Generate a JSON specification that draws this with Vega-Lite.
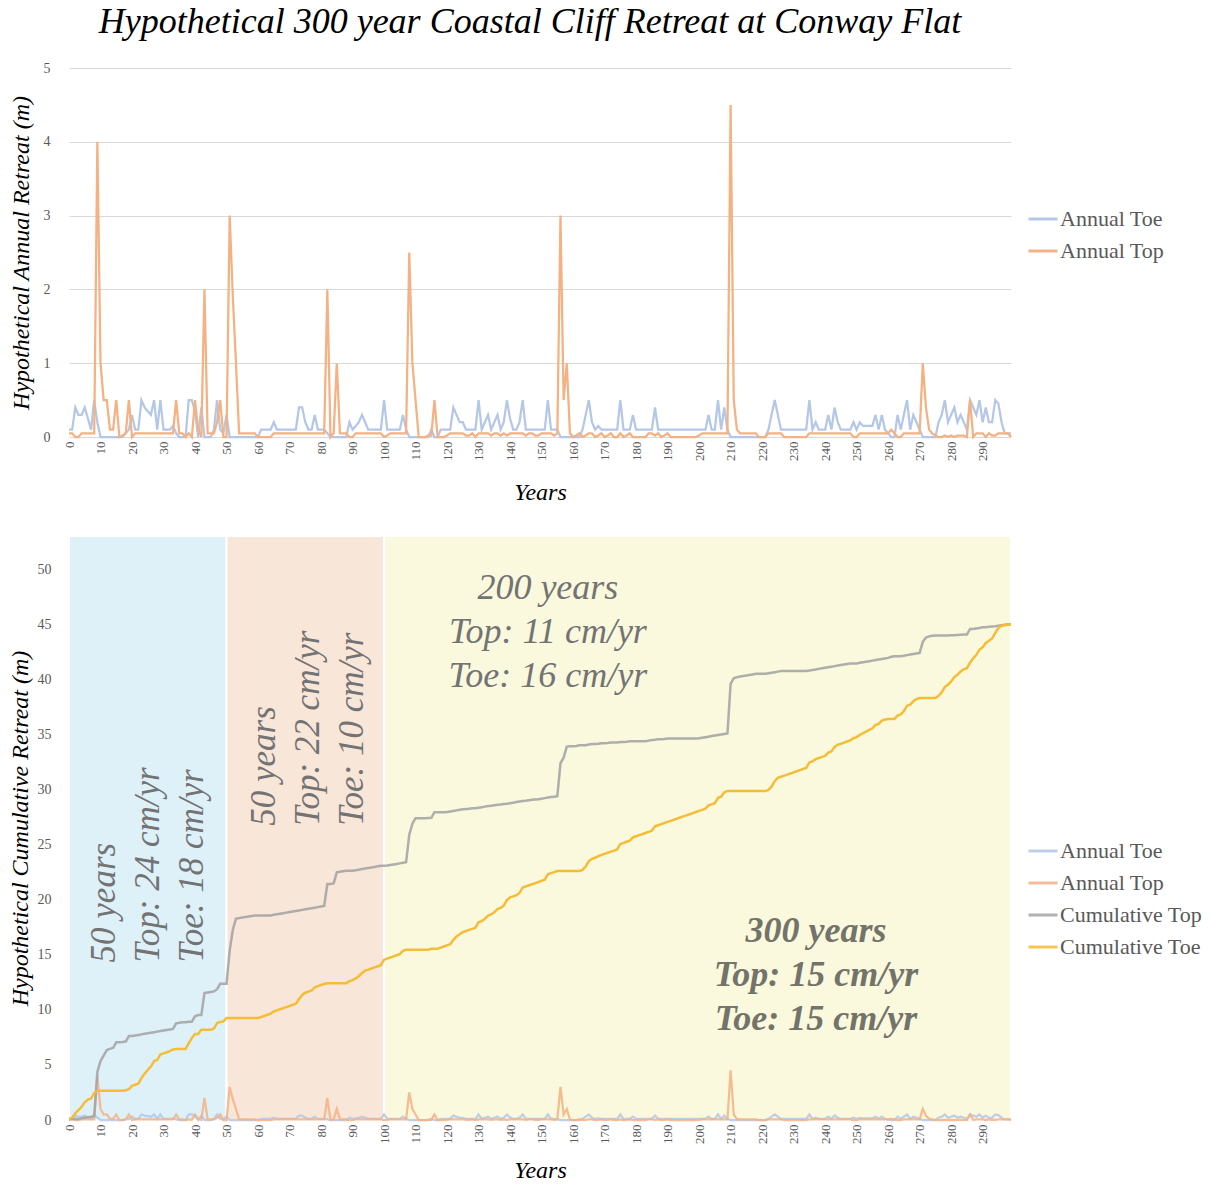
{
"$schema":"https://vega.github.io/schema/vega-lite/v6.json",
"background":"white",
"padding":{"left":8,"top":4,"right":5,"bottom":0},
"config":{"font":"Liberation Serif","view":{"stroke":null},
"axis":{"labelFont":"Liberation Serif","titleFont":"Liberation Serif","labelColor":"#595959","titleColor":"#000000","titleFontStyle":"italic","titleFontWeight":"normal","titleFontSize":24,"labelFontSize":14,"gridColor":"#D9D9D9","domain":false,"ticks":false},
"axisX":{"values":[0,10,20,30,40,50,60,70,80,90,100,110,120,130,140,150,160,170,180,190,200,210,220,230,240,250,260,270,280,290],"labelAngle":270,"labelFontSize":13,"labelPadding":4,"grid":false,"labelOverlap":false},
"legend":{"labelFont":"Liberation Serif","labelFontSize":22,"labelColor":"#595959","symbolType":"stroke","symbolStrokeWidth":3,"symbolSize":840,"rowPadding":5,"labelOffset":1}},
"datasets":{"d":[
{"year":0,"toe":0.1,"top":0.05,"ctoe":0.1,"ctop":0.05},
{"year":1,"toe":0.1,"top":0.05,"ctoe":0.2,"ctop":0.1},
{"year":2,"toe":0.4,"top":0,"ctoe":0.6,"ctop":0.1},
{"year":3,"toe":0.3,"top":0,"ctoe":0.9,"ctop":0.1},
{"year":4,"toe":0.3,"top":0.05,"ctoe":1.2,"ctop":0.15},
{"year":5,"toe":0.4,"top":0.05,"ctoe":1.6,"ctop":0.2},
{"year":6,"toe":0.25,"top":0.05,"ctoe":1.85,"ctop":0.25},
{"year":7,"toe":0.1,"top":0.05,"ctoe":1.95,"ctop":0.3},
{"year":8,"toe":0.5,"top":0.05,"ctoe":2.45,"ctop":0.35},
{"year":9,"toe":0.2,"top":4.0,"ctoe":2.65,"ctop":4.35},
{"year":10,"toe":0,"top":1.0,"ctoe":2.65,"ctop":5.35},
{"year":11,"toe":0,"top":0.5,"ctoe":2.65,"ctop":5.85},
{"year":12,"toe":0,"top":0.5,"ctoe":2.65,"ctop":6.35},
{"year":13,"toe":0,"top":0.1,"ctoe":2.65,"ctop":6.45},
{"year":14,"toe":0,"top":0.1,"ctoe":2.65,"ctop":6.55},
{"year":15,"toe":0,"top":0.5,"ctoe":2.65,"ctop":7.05},
{"year":16,"toe":0,"top":0,"ctoe":2.65,"ctop":7.05},
{"year":17,"toe":0,"top":0.02,"ctoe":2.65,"ctop":7.07},
{"year":18,"toe":0.05,"top":0.05,"ctoe":2.7,"ctop":7.12},
{"year":19,"toe":0.1,"top":0.5,"ctoe":2.8,"ctop":7.62},
{"year":20,"toe":0.3,"top":0,"ctoe":3.1,"ctop":7.62},
{"year":21,"toe":0.1,"top":0.05,"ctoe":3.2,"ctop":7.67},
{"year":22,"toe":0.1,"top":0.05,"ctoe":3.3,"ctop":7.72},
{"year":23,"toe":0.5,"top":0.05,"ctoe":3.8,"ctop":7.77},
{"year":24,"toe":0.4,"top":0.05,"ctoe":4.2,"ctop":7.82},
{"year":25,"toe":0.35,"top":0.05,"ctoe":4.55,"ctop":7.87},
{"year":26,"toe":0.3,"top":0.05,"ctoe":4.85,"ctop":7.92},
{"year":27,"toe":0.5,"top":0.05,"ctoe":5.35,"ctop":7.97},
{"year":28,"toe":0.1,"top":0.05,"ctoe":5.45,"ctop":8.02},
{"year":29,"toe":0.5,"top":0.05,"ctoe":5.95,"ctop":8.07},
{"year":30,"toe":0.1,"top":0.05,"ctoe":6.05,"ctop":8.12},
{"year":31,"toe":0.1,"top":0.05,"ctoe":6.15,"ctop":8.17},
{"year":32,"toe":0.1,"top":0.05,"ctoe":6.25,"ctop":8.22},
{"year":33,"toe":0.15,"top":0.05,"ctoe":6.4,"ctop":8.27},
{"year":34,"toe":0.05,"top":0.5,"ctoe":6.45,"ctop":8.77},
{"year":35,"toe":0,"top":0.05,"ctoe":6.45,"ctop":8.82},
{"year":36,"toe":0,"top":0.05,"ctoe":6.45,"ctop":8.87},
{"year":37,"toe":0,"top":0,"ctoe":6.45,"ctop":8.87},
{"year":38,"toe":0.5,"top":0.05,"ctoe":6.95,"ctop":8.92},
{"year":39,"toe":0.5,"top":0,"ctoe":7.45,"ctop":8.92},
{"year":40,"toe":0.35,"top":0.5,"ctoe":7.8,"ctop":9.42},
{"year":41,"toe":0,"top":0.1,"ctoe":7.8,"ctop":9.52},
{"year":42,"toe":0.4,"top":0,"ctoe":8.2,"ctop":9.52},
{"year":43,"toe":0,"top":2.0,"ctoe":8.2,"ctop":11.52},
{"year":44,"toe":0,"top":0.05,"ctoe":8.2,"ctop":11.57},
{"year":45,"toe":0,"top":0.05,"ctoe":8.2,"ctop":11.62},
{"year":46,"toe":0.1,"top":0.05,"ctoe":8.3,"ctop":11.67},
{"year":47,"toe":0.5,"top":0.2,"ctoe":8.8,"ctop":11.87},
{"year":48,"toe":0.1,"top":0.5,"ctoe":8.9,"ctop":12.37},
{"year":49,"toe":0.05,"top":0,"ctoe":8.95,"ctop":12.37},
{"year":50,"toe":0.3,"top":0,"ctoe":9.25,"ctop":12.37},
{"year":51,"toe":0,"top":3.0,"ctoe":9.25,"ctop":15.37},
{"year":52,"toe":0,"top":1.9,"ctoe":9.25,"ctop":17.27},
{"year":53,"toe":0,"top":1.0,"ctoe":9.25,"ctop":18.27},
{"year":54,"toe":0,"top":0.05,"ctoe":9.25,"ctop":18.32},
{"year":55,"toe":0,"top":0.05,"ctoe":9.25,"ctop":18.37},
{"year":56,"toe":0,"top":0.05,"ctoe":9.25,"ctop":18.42},
{"year":57,"toe":0,"top":0.05,"ctoe":9.25,"ctop":18.47},
{"year":58,"toe":0,"top":0.05,"ctoe":9.25,"ctop":18.52},
{"year":59,"toe":0,"top":0.05,"ctoe":9.25,"ctop":18.57},
{"year":60,"toe":0,"top":0,"ctoe":9.25,"ctop":18.57},
{"year":61,"toe":0.1,"top":0,"ctoe":9.35,"ctop":18.57},
{"year":62,"toe":0.1,"top":0,"ctoe":9.45,"ctop":18.57},
{"year":63,"toe":0.1,"top":0,"ctoe":9.55,"ctop":18.57},
{"year":64,"toe":0.1,"top":0,"ctoe":9.65,"ctop":18.57},
{"year":65,"toe":0.2,"top":0.05,"ctoe":9.85,"ctop":18.62},
{"year":66,"toe":0.1,"top":0.05,"ctoe":9.95,"ctop":18.67},
{"year":67,"toe":0.1,"top":0.05,"ctoe":10.05,"ctop":18.72},
{"year":68,"toe":0.1,"top":0.05,"ctoe":10.15,"ctop":18.77},
{"year":69,"toe":0.1,"top":0.05,"ctoe":10.25,"ctop":18.82},
{"year":70,"toe":0.1,"top":0.05,"ctoe":10.35,"ctop":18.87},
{"year":71,"toe":0.1,"top":0.05,"ctoe":10.45,"ctop":18.92},
{"year":72,"toe":0.1,"top":0.05,"ctoe":10.55,"ctop":18.97},
{"year":73,"toe":0.4,"top":0.05,"ctoe":10.95,"ctop":19.02},
{"year":74,"toe":0.4,"top":0.05,"ctoe":11.35,"ctop":19.07},
{"year":75,"toe":0.2,"top":0.05,"ctoe":11.55,"ctop":19.12},
{"year":76,"toe":0.1,"top":0.05,"ctoe":11.65,"ctop":19.17},
{"year":77,"toe":0.1,"top":0.05,"ctoe":11.75,"ctop":19.22},
{"year":78,"toe":0.3,"top":0.05,"ctoe":12.05,"ctop":19.27},
{"year":79,"toe":0.1,"top":0.05,"ctoe":12.15,"ctop":19.32},
{"year":80,"toe":0.1,"top":0.05,"ctoe":12.25,"ctop":19.37},
{"year":81,"toe":0.1,"top":0.05,"ctoe":12.35,"ctop":19.42},
{"year":82,"toe":0.05,"top":2.0,"ctoe":12.4,"ctop":21.42},
{"year":83,"toe":0,"top":0,"ctoe":12.4,"ctop":21.42},
{"year":84,"toe":0,"top":0.05,"ctoe":12.4,"ctop":21.47},
{"year":85,"toe":0,"top":1.0,"ctoe":12.4,"ctop":22.47},
{"year":86,"toe":0,"top":0.05,"ctoe":12.4,"ctop":22.52},
{"year":87,"toe":0,"top":0.05,"ctoe":12.4,"ctop":22.57},
{"year":88,"toe":0,"top":0.05,"ctoe":12.4,"ctop":22.62},
{"year":89,"toe":0.2,"top":0,"ctoe":12.6,"ctop":22.62},
{"year":90,"toe":0.1,"top":0,"ctoe":12.7,"ctop":22.62},
{"year":91,"toe":0.15,"top":0.05,"ctoe":12.85,"ctop":22.67},
{"year":92,"toe":0.2,"top":0.05,"ctoe":13.05,"ctop":22.72},
{"year":93,"toe":0.3,"top":0.05,"ctoe":13.35,"ctop":22.77},
{"year":94,"toe":0.2,"top":0.05,"ctoe":13.55,"ctop":22.82},
{"year":95,"toe":0.1,"top":0.05,"ctoe":13.65,"ctop":22.87},
{"year":96,"toe":0.1,"top":0.05,"ctoe":13.75,"ctop":22.92},
{"year":97,"toe":0.1,"top":0.05,"ctoe":13.85,"ctop":22.97},
{"year":98,"toe":0.1,"top":0.05,"ctoe":13.95,"ctop":23.02},
{"year":99,"toe":0.1,"top":0.05,"ctoe":14.05,"ctop":23.07},
{"year":100,"toe":0.5,"top":0,"ctoe":14.55,"ctop":23.07},
{"year":101,"toe":0.1,"top":0.02,"ctoe":14.65,"ctop":23.09},
{"year":102,"toe":0.1,"top":0.05,"ctoe":14.75,"ctop":23.14},
{"year":103,"toe":0.1,"top":0.05,"ctoe":14.85,"ctop":23.19},
{"year":104,"toe":0.1,"top":0.05,"ctoe":14.95,"ctop":23.24},
{"year":105,"toe":0.1,"top":0.05,"ctoe":15.05,"ctop":23.29},
{"year":106,"toe":0.3,"top":0.05,"ctoe":15.35,"ctop":23.34},
{"year":107,"toe":0.1,"top":0.05,"ctoe":15.45,"ctop":23.39},
{"year":108,"toe":0,"top":2.5,"ctoe":15.45,"ctop":25.89},
{"year":109,"toe":0,"top":1.0,"ctoe":15.45,"ctop":26.89},
{"year":110,"toe":0,"top":0.5,"ctoe":15.45,"ctop":27.39},
{"year":111,"toe":0,"top":0,"ctoe":15.45,"ctop":27.39},
{"year":112,"toe":0,"top":0,"ctoe":15.45,"ctop":27.39},
{"year":113,"toe":0,"top":0,"ctoe":15.45,"ctop":27.39},
{"year":114,"toe":0,"top":0.02,"ctoe":15.45,"ctop":27.41},
{"year":115,"toe":0.1,"top":0.02,"ctoe":15.55,"ctop":27.43},
{"year":116,"toe":0,"top":0.5,"ctoe":15.55,"ctop":27.93},
{"year":117,"toe":0,"top":0,"ctoe":15.55,"ctop":27.93},
{"year":118,"toe":0.1,"top":0,"ctoe":15.65,"ctop":27.93},
{"year":119,"toe":0.1,"top":0,"ctoe":15.75,"ctop":27.93},
{"year":120,"toe":0.1,"top":0.02,"ctoe":15.85,"ctop":27.95},
{"year":121,"toe":0.1,"top":0.05,"ctoe":15.95,"ctop":28.0},
{"year":122,"toe":0.4,"top":0.05,"ctoe":16.35,"ctop":28.05},
{"year":123,"toe":0.3,"top":0.05,"ctoe":16.65,"ctop":28.1},
{"year":124,"toe":0.2,"top":0.05,"ctoe":16.85,"ctop":28.15},
{"year":125,"toe":0.2,"top":0.05,"ctoe":17.05,"ctop":28.2},
{"year":126,"toe":0.1,"top":0.02,"ctoe":17.15,"ctop":28.22},
{"year":127,"toe":0.1,"top":0.02,"ctoe":17.25,"ctop":28.24},
{"year":128,"toe":0.1,"top":0.05,"ctoe":17.35,"ctop":28.29},
{"year":129,"toe":0.1,"top":0,"ctoe":17.45,"ctop":28.29},
{"year":130,"toe":0.5,"top":0.05,"ctoe":17.95,"ctop":28.34},
{"year":131,"toe":0.1,"top":0.05,"ctoe":18.05,"ctop":28.39},
{"year":132,"toe":0.2,"top":0.05,"ctoe":18.25,"ctop":28.44},
{"year":133,"toe":0.3,"top":0.05,"ctoe":18.55,"ctop":28.49},
{"year":134,"toe":0.1,"top":0.02,"ctoe":18.65,"ctop":28.51},
{"year":135,"toe":0.2,"top":0.05,"ctoe":18.85,"ctop":28.56},
{"year":136,"toe":0.3,"top":0.05,"ctoe":19.15,"ctop":28.61},
{"year":137,"toe":0.1,"top":0.02,"ctoe":19.25,"ctop":28.63},
{"year":138,"toe":0.2,"top":0.05,"ctoe":19.45,"ctop":28.68},
{"year":139,"toe":0.5,"top":0.02,"ctoe":19.95,"ctop":28.7},
{"year":140,"toe":0.25,"top":0.05,"ctoe":20.2,"ctop":28.75},
{"year":141,"toe":0.1,"top":0.05,"ctoe":20.3,"ctop":28.8},
{"year":142,"toe":0.1,"top":0.05,"ctoe":20.4,"ctop":28.85},
{"year":143,"toe":0.2,"top":0.05,"ctoe":20.6,"ctop":28.9},
{"year":144,"toe":0.5,"top":0.05,"ctoe":21.1,"ctop":28.95},
{"year":145,"toe":0.1,"top":0.02,"ctoe":21.2,"ctop":28.97},
{"year":146,"toe":0.1,"top":0.05,"ctoe":21.3,"ctop":29.02},
{"year":147,"toe":0.1,"top":0.05,"ctoe":21.4,"ctop":29.07},
{"year":148,"toe":0.1,"top":0.02,"ctoe":21.5,"ctop":29.09},
{"year":149,"toe":0.1,"top":0.02,"ctoe":21.6,"ctop":29.11},
{"year":150,"toe":0.1,"top":0.05,"ctoe":21.7,"ctop":29.16},
{"year":151,"toe":0.1,"top":0.05,"ctoe":21.8,"ctop":29.21},
{"year":152,"toe":0.5,"top":0.05,"ctoe":22.3,"ctop":29.26},
{"year":153,"toe":0.1,"top":0.05,"ctoe":22.4,"ctop":29.31},
{"year":154,"toe":0.1,"top":0.02,"ctoe":22.5,"ctop":29.33},
{"year":155,"toe":0.1,"top":0.05,"ctoe":22.6,"ctop":29.38},
{"year":156,"toe":0,"top":3.0,"ctoe":22.6,"ctop":32.38},
{"year":157,"toe":0,"top":0.5,"ctoe":22.6,"ctop":32.88},
{"year":158,"toe":0,"top":1.0,"ctoe":22.6,"ctop":33.88},
{"year":159,"toe":0,"top":0.05,"ctoe":22.6,"ctop":33.93},
{"year":160,"toe":0,"top":0,"ctoe":22.6,"ctop":33.93},
{"year":161,"toe":0,"top":0.02,"ctoe":22.6,"ctop":33.95},
{"year":162,"toe":0,"top":0.05,"ctoe":22.6,"ctop":34.0},
{"year":163,"toe":0.1,"top":0,"ctoe":22.7,"ctop":34.0},
{"year":164,"toe":0.3,"top":0.02,"ctoe":23.0,"ctop":34.02},
{"year":165,"toe":0.5,"top":0.05,"ctoe":23.5,"ctop":34.07},
{"year":166,"toe":0.2,"top":0.05,"ctoe":23.7,"ctop":34.12},
{"year":167,"toe":0.1,"top":0,"ctoe":23.8,"ctop":34.12},
{"year":168,"toe":0.15,"top":0.02,"ctoe":23.95,"ctop":34.14},
{"year":169,"toe":0.1,"top":0.05,"ctoe":24.05,"ctop":34.19},
{"year":170,"toe":0.1,"top":0,"ctoe":24.15,"ctop":34.19},
{"year":171,"toe":0.1,"top":0.02,"ctoe":24.25,"ctop":34.21},
{"year":172,"toe":0.1,"top":0.05,"ctoe":24.35,"ctop":34.26},
{"year":173,"toe":0.1,"top":0,"ctoe":24.45,"ctop":34.26},
{"year":174,"toe":0.1,"top":0,"ctoe":24.55,"ctop":34.26},
{"year":175,"toe":0.5,"top":0.05,"ctoe":25.05,"ctop":34.31},
{"year":176,"toe":0.1,"top":0,"ctoe":25.15,"ctop":34.31},
{"year":177,"toe":0.1,"top":0.02,"ctoe":25.25,"ctop":34.33},
{"year":178,"toe":0.1,"top":0.05,"ctoe":25.35,"ctop":34.38},
{"year":179,"toe":0.3,"top":0,"ctoe":25.65,"ctop":34.38},
{"year":180,"toe":0.1,"top":0,"ctoe":25.75,"ctop":34.38},
{"year":181,"toe":0.1,"top":0,"ctoe":25.85,"ctop":34.38},
{"year":182,"toe":0.1,"top":0,"ctoe":25.95,"ctop":34.38},
{"year":183,"toe":0.1,"top":0,"ctoe":26.05,"ctop":34.38},
{"year":184,"toe":0.1,"top":0.05,"ctoe":26.15,"ctop":34.43},
{"year":185,"toe":0.1,"top":0.05,"ctoe":26.25,"ctop":34.48},
{"year":186,"toe":0.4,"top":0.02,"ctoe":26.65,"ctop":34.5},
{"year":187,"toe":0.1,"top":0.05,"ctoe":26.75,"ctop":34.55},
{"year":188,"toe":0.1,"top":0,"ctoe":26.85,"ctop":34.55},
{"year":189,"toe":0.1,"top":0.02,"ctoe":26.95,"ctop":34.57},
{"year":190,"toe":0.1,"top":0.05,"ctoe":27.05,"ctop":34.62},
{"year":191,"toe":0.1,"top":0,"ctoe":27.15,"ctop":34.62},
{"year":192,"toe":0.1,"top":0,"ctoe":27.25,"ctop":34.62},
{"year":193,"toe":0.1,"top":0,"ctoe":27.35,"ctop":34.62},
{"year":194,"toe":0.1,"top":0,"ctoe":27.45,"ctop":34.62},
{"year":195,"toe":0.1,"top":0,"ctoe":27.55,"ctop":34.62},
{"year":196,"toe":0.1,"top":0,"ctoe":27.65,"ctop":34.62},
{"year":197,"toe":0.1,"top":0,"ctoe":27.75,"ctop":34.62},
{"year":198,"toe":0.1,"top":0,"ctoe":27.85,"ctop":34.62},
{"year":199,"toe":0.1,"top":0,"ctoe":27.95,"ctop":34.62},
{"year":200,"toe":0.1,"top":0.02,"ctoe":28.05,"ctop":34.64},
{"year":201,"toe":0.1,"top":0.05,"ctoe":28.15,"ctop":34.69},
{"year":202,"toe":0.1,"top":0.05,"ctoe":28.25,"ctop":34.74},
{"year":203,"toe":0.3,"top":0.05,"ctoe":28.55,"ctop":34.79},
{"year":204,"toe":0.1,"top":0.05,"ctoe":28.65,"ctop":34.84},
{"year":205,"toe":0.1,"top":0.05,"ctoe":28.75,"ctop":34.89},
{"year":206,"toe":0.5,"top":0.05,"ctoe":29.25,"ctop":34.94},
{"year":207,"toe":0.1,"top":0.05,"ctoe":29.35,"ctop":34.99},
{"year":208,"toe":0.4,"top":0.05,"ctoe":29.75,"ctop":35.04},
{"year":209,"toe":0.1,"top":0.05,"ctoe":29.85,"ctop":35.09},
{"year":210,"toe":0,"top":4.5,"ctoe":29.85,"ctop":39.59},
{"year":211,"toe":0,"top":0.5,"ctoe":29.85,"ctop":40.09},
{"year":212,"toe":0,"top":0.1,"ctoe":29.85,"ctop":40.19},
{"year":213,"toe":0,"top":0.05,"ctoe":29.85,"ctop":40.24},
{"year":214,"toe":0,"top":0.05,"ctoe":29.85,"ctop":40.29},
{"year":215,"toe":0,"top":0.05,"ctoe":29.85,"ctop":40.34},
{"year":216,"toe":0,"top":0.05,"ctoe":29.85,"ctop":40.39},
{"year":217,"toe":0,"top":0.05,"ctoe":29.85,"ctop":40.44},
{"year":218,"toe":0,"top":0.05,"ctoe":29.85,"ctop":40.49},
{"year":219,"toe":0,"top":0,"ctoe":29.85,"ctop":40.49},
{"year":220,"toe":0,"top":0,"ctoe":29.85,"ctop":40.49},
{"year":221,"toe":0,"top":0,"ctoe":29.85,"ctop":40.49},
{"year":222,"toe":0.1,"top":0.05,"ctoe":29.95,"ctop":40.54},
{"year":223,"toe":0.3,"top":0.05,"ctoe":30.25,"ctop":40.59},
{"year":224,"toe":0.5,"top":0.05,"ctoe":30.75,"ctop":40.64},
{"year":225,"toe":0.3,"top":0.05,"ctoe":31.05,"ctop":40.69},
{"year":226,"toe":0.1,"top":0.05,"ctoe":31.15,"ctop":40.74},
{"year":227,"toe":0.1,"top":0,"ctoe":31.25,"ctop":40.74},
{"year":228,"toe":0.1,"top":0,"ctoe":31.35,"ctop":40.74},
{"year":229,"toe":0.1,"top":0,"ctoe":31.45,"ctop":40.74},
{"year":230,"toe":0.1,"top":0,"ctoe":31.55,"ctop":40.74},
{"year":231,"toe":0.1,"top":0,"ctoe":31.65,"ctop":40.74},
{"year":232,"toe":0.1,"top":0,"ctoe":31.75,"ctop":40.74},
{"year":233,"toe":0.1,"top":0,"ctoe":31.85,"ctop":40.74},
{"year":234,"toe":0.1,"top":0,"ctoe":31.95,"ctop":40.74},
{"year":235,"toe":0.5,"top":0.05,"ctoe":32.45,"ctop":40.79},
{"year":236,"toe":0.1,"top":0.05,"ctoe":32.55,"ctop":40.84},
{"year":237,"toe":0.2,"top":0.05,"ctoe":32.75,"ctop":40.89},
{"year":238,"toe":0.1,"top":0.05,"ctoe":32.85,"ctop":40.94},
{"year":239,"toe":0.1,"top":0.05,"ctoe":32.95,"ctop":40.99},
{"year":240,"toe":0.1,"top":0.05,"ctoe":33.05,"ctop":41.04},
{"year":241,"toe":0.3,"top":0.05,"ctoe":33.35,"ctop":41.09},
{"year":242,"toe":0.1,"top":0.05,"ctoe":33.45,"ctop":41.14},
{"year":243,"toe":0.4,"top":0.05,"ctoe":33.85,"ctop":41.19},
{"year":244,"toe":0.2,"top":0.05,"ctoe":34.05,"ctop":41.24},
{"year":245,"toe":0.1,"top":0.05,"ctoe":34.15,"ctop":41.29},
{"year":246,"toe":0.1,"top":0.05,"ctoe":34.25,"ctop":41.34},
{"year":247,"toe":0.1,"top":0.05,"ctoe":34.35,"ctop":41.39},
{"year":248,"toe":0.1,"top":0.05,"ctoe":34.45,"ctop":41.44},
{"year":249,"toe":0.2,"top":0,"ctoe":34.65,"ctop":41.44},
{"year":250,"toe":0.1,"top":0,"ctoe":34.75,"ctop":41.44},
{"year":251,"toe":0.2,"top":0.05,"ctoe":34.95,"ctop":41.49},
{"year":252,"toe":0.15,"top":0.05,"ctoe":35.1,"ctop":41.54},
{"year":253,"toe":0.15,"top":0.05,"ctoe":35.25,"ctop":41.59},
{"year":254,"toe":0.15,"top":0.05,"ctoe":35.4,"ctop":41.64},
{"year":255,"toe":0.15,"top":0.05,"ctoe":35.55,"ctop":41.69},
{"year":256,"toe":0.3,"top":0.05,"ctoe":35.85,"ctop":41.74},
{"year":257,"toe":0.1,"top":0.05,"ctoe":35.95,"ctop":41.79},
{"year":258,"toe":0.3,"top":0.05,"ctoe":36.25,"ctop":41.84},
{"year":259,"toe":0.1,"top":0.05,"ctoe":36.35,"ctop":41.89},
{"year":260,"toe":0.05,"top":0.05,"ctoe":36.4,"ctop":41.94},
{"year":261,"toe":0,"top":0.1,"ctoe":36.4,"ctop":42.04},
{"year":262,"toe":0,"top":0.05,"ctoe":36.4,"ctop":42.09},
{"year":263,"toe":0.3,"top":0,"ctoe":36.7,"ctop":42.09},
{"year":264,"toe":0.1,"top":0,"ctoe":36.8,"ctop":42.09},
{"year":265,"toe":0.3,"top":0.05,"ctoe":37.1,"ctop":42.14},
{"year":266,"toe":0.5,"top":0.05,"ctoe":37.6,"ctop":42.19},
{"year":267,"toe":0.1,"top":0.05,"ctoe":37.7,"ctop":42.24},
{"year":268,"toe":0.3,"top":0.05,"ctoe":38.0,"ctop":42.29},
{"year":269,"toe":0.2,"top":0.05,"ctoe":38.2,"ctop":42.34},
{"year":270,"toe":0.1,"top":0.05,"ctoe":38.3,"ctop":42.39},
{"year":271,"toe":0,"top":1.0,"ctoe":38.3,"ctop":43.39},
{"year":272,"toe":0,"top":0.4,"ctoe":38.3,"ctop":43.79},
{"year":273,"toe":0,"top":0.1,"ctoe":38.3,"ctop":43.89},
{"year":274,"toe":0,"top":0.05,"ctoe":38.3,"ctop":43.94},
{"year":275,"toe":0,"top":0.02,"ctoe":38.3,"ctop":43.96},
{"year":276,"toe":0.2,"top":0,"ctoe":38.5,"ctop":43.96},
{"year":277,"toe":0.3,"top":0,"ctoe":38.8,"ctop":43.96},
{"year":278,"toe":0.5,"top":0.02,"ctoe":39.3,"ctop":43.98},
{"year":279,"toe":0.2,"top":0,"ctoe":39.5,"ctop":43.98},
{"year":280,"toe":0.3,"top":0.02,"ctoe":39.8,"ctop":44.0},
{"year":281,"toe":0.4,"top":0,"ctoe":40.2,"ctop":44.0},
{"year":282,"toe":0.2,"top":0.02,"ctoe":40.4,"ctop":44.02},
{"year":283,"toe":0.3,"top":0.02,"ctoe":40.7,"ctop":44.04},
{"year":284,"toe":0.2,"top":0.02,"ctoe":40.9,"ctop":44.06},
{"year":285,"toe":0.1,"top":0,"ctoe":41.0,"ctop":44.06},
{"year":286,"toe":0.5,"top":0.5,"ctoe":41.5,"ctop":44.56},
{"year":287,"toe":0.4,"top":0,"ctoe":41.9,"ctop":44.56},
{"year":288,"toe":0.3,"top":0.05,"ctoe":42.2,"ctop":44.61},
{"year":289,"toe":0.5,"top":0.05,"ctoe":42.7,"ctop":44.66},
{"year":290,"toe":0.2,"top":0.05,"ctoe":42.9,"ctop":44.71},
{"year":291,"toe":0.4,"top":0,"ctoe":43.3,"ctop":44.71},
{"year":292,"toe":0.2,"top":0.05,"ctoe":43.5,"ctop":44.76},
{"year":293,"toe":0.2,"top":0.02,"ctoe":43.7,"ctop":44.78},
{"year":294,"toe":0.5,"top":0.02,"ctoe":44.2,"ctop":44.8},
{"year":295,"toe":0.45,"top":0.05,"ctoe":44.65,"ctop":44.85},
{"year":296,"toe":0.2,"top":0.05,"ctoe":44.85,"ctop":44.9},
{"year":297,"toe":0.05,"top":0.05,"ctoe":44.9,"ctop":44.95},
{"year":298,"toe":0.05,"top":0.05,"ctoe":44.95,"ctop":45.0},
{"year":299,"toe":0.05,"top":0,"ctoe":45.0,"ctop":45.0}
]},
"resolve":{"scale":{"color":"independent"},"legend":{"color":"independent"}},
"spacing":30,
"vconcat":[
{
"title":{"text":"Hypothetical 300 year Coastal Cliff Retreat at Conway Flat","font":"Liberation Serif","fontSize":36,"fontStyle":"italic","fontWeight":"normal","color":"#000000","anchor":"middle","frame":"group","offset":20,"dx":-10},
"width":942,"height":369,
"data":{"name":"d"},
"encoding":{"x":{"field":"year","type":"quantitative","title":"Years","scale":{"domain":[0,299],"nice":false,"zero":false},"axis":{"titlePadding":20}}},
"layer":[
{"mark":{"type":"line","strokeWidth":2.25},"encoding":{"y":{"field":"toe","type":"quantitative","title":"Hypothetical Annual Retreat (m)","scale":{"domain":[0,5],"nice":false},"axis":{"values":[0,1,2,3,4,5],"format":"d","labelPadding":19,"titlePadding":10,"labelFontSize":14}},
"color":{"datum":"Annual Toe","scale":{"domain":["Annual Toe","Annual Top"],"range":["#B4C7E7","#F4B183"]},"legend":{"title":null,"orient":"none","legendX":958,"legendY":135}}}},
{"mark":{"type":"line","strokeWidth":2.25},"encoding":{"y":{"field":"top","type":"quantitative","title":"Hypothetical Annual Retreat (m)"},"color":{"datum":"Annual Top"}}}
]
},
{
"width":942,"height":584,
"layer":[
{"data":{"values":[{"band":1}]},"mark":{"type":"rect","fill":"#DEF1F8","stroke":"#FFFFFF","strokeWidth":2},
"encoding":{"x":{"datum":0,"type":"quantitative","title":"Years","scale":{"domain":[0,299],"nice":false,"zero":false},"axis":{"titlePadding":15,"zindex":1}},"x2":{"datum":50},
"y":{"datum":0,"type":"quantitative","title":"Hypothetical Cumulative Retreat (m)","scale":{"domain":[0,53],"nice":false},"axis":{"values":[0,5,10,15,20,25,30,35,40,45,50],"labelPadding":18,"titlePadding":5,"labelFontSize":14,"zindex":1,"gridColor":"#D6D6CC"}},"y2":{"datum":53}}},
{"data":{"values":[{"band":2}]},"mark":{"type":"rect","fill":"#F8E6D9","stroke":"#FFFFFF","strokeWidth":2},
"encoding":{"x":{"datum":50,"type":"quantitative","title":"Years","axis":{"titlePadding":15,"zindex":1}},"x2":{"datum":100},"y":{"datum":0,"type":"quantitative","title":"Hypothetical Cumulative Retreat (m)"},"y2":{"datum":53}}},
{"data":{"values":[{"band":3}]},"mark":{"type":"rect","fill":"#FAF9DE","stroke":"#FFFFFF","strokeWidth":2},
"encoding":{"x":{"datum":100,"type":"quantitative","title":"Years","axis":{"titlePadding":15,"zindex":1}},"x2":{"datum":299},"y":{"datum":0,"type":"quantitative","title":"Hypothetical Cumulative Retreat (m)"},"y2":{"datum":53}}},
{"data":{"name":"d"},"mark":{"type":"line","strokeWidth":2.25,"opacity":0.85},"encoding":{"x":{"field":"year","type":"quantitative","title":"Years","axis":{"titlePadding":15,"zindex":1}},"y":{"field":"toe","type":"quantitative","title":"Hypothetical Cumulative Retreat (m)"},
"color":{"datum":"Annual Toe","scale":{"domain":["Annual Toe","Annual Top","Cumulative Top","Cumulative Toe"],"range":["#B4C7E7","#F4B183","#A5A5A5","#F5BD35"]},"legend":{"title":null,"orient":"none","legendX":958,"legendY":299}}}},
{"data":{"name":"d"},"mark":{"type":"line","strokeWidth":2.25,"opacity":0.85},"encoding":{"x":{"field":"year","type":"quantitative","title":"Years","axis":{"titlePadding":15,"zindex":1}},"y":{"field":"top","type":"quantitative","title":"Hypothetical Cumulative Retreat (m)"},"color":{"datum":"Annual Top"}}},
{"data":{"name":"d"},"mark":{"type":"line","strokeWidth":2.5,"opacity":0.9},"encoding":{"x":{"field":"year","type":"quantitative","title":"Years","axis":{"titlePadding":15,"zindex":1}},"y":{"field":"ctop","type":"quantitative","title":"Hypothetical Cumulative Retreat (m)"},"color":{"datum":"Cumulative Top"}}},
{"data":{"name":"d"},"mark":{"type":"line","strokeWidth":2.5},"encoding":{"x":{"field":"year","type":"quantitative","title":"Years","axis":{"titlePadding":15,"zindex":1}},"y":{"field":"ctoe","type":"quantitative","title":"Hypothetical Cumulative Retreat (m)"},"color":{"datum":"Cumulative Toe"}}},
{"data":{"values":[{"note":1}]},"mark":{"type":"text","text":"50 years\nTop: 24 cm/yr\nToe: 18 cm/yr","lineBreak":"\n","angle":270,"align":"left","baseline":"middle","font":"Liberation Serif","fontSize":35,"fontStyle":"italic","color":"#737373","lineHeight":44},"encoding":{"x":{"datum":11.1,"type":"quantitative","title":"Years","axis":{"titlePadding":15,"zindex":1}},"y":{"datum":14.3,"type":"quantitative","title":"Hypothetical Cumulative Retreat (m)"}}},
{"data":{"values":[{"note":2}]},"mark":{"type":"text","text":"50 years\nTop: 22 cm/yr\nToe: 10 cm/yr","lineBreak":"\n","angle":270,"align":"left","baseline":"middle","font":"Liberation Serif","fontSize":35,"fontStyle":"italic","color":"#737373","lineHeight":44},"encoding":{"x":{"datum":61.9,"type":"quantitative","title":"Years","axis":{"titlePadding":15,"zindex":1}},"y":{"datum":26.7,"type":"quantitative","title":"Hypothetical Cumulative Retreat (m)"}}},
{"data":{"values":[{"note":3}]},"mark":{"type":"text","text":"200 years\nTop: 11 cm/yr\nToe: 16 cm/yr","lineBreak":"\n","align":"center","baseline":"middle","font":"Liberation Serif","fontSize":36,"fontStyle":"italic","color":"#737373","lineHeight":44},"encoding":{"x":{"datum":152,"type":"quantitative","title":"Years","axis":{"titlePadding":15,"zindex":1}},"y":{"datum":48.3,"type":"quantitative","title":"Hypothetical Cumulative Retreat (m)"}}},
{"data":{"values":[{"note":4}]},"mark":{"type":"text","text":"300 years\nTop: 15 cm/yr\nToe: 15 cm/yr","lineBreak":"\n","align":"center","baseline":"middle","font":"Liberation Serif","fontSize":36,"fontStyle":"italic","fontWeight":"bold","color":"#73736A","lineHeight":44},"encoding":{"x":{"datum":237.1,"type":"quantitative","title":"Years","axis":{"titlePadding":15,"zindex":1}},"y":{"datum":17.15,"type":"quantitative","title":"Hypothetical Cumulative Retreat (m)"}}}
]
}
]
}
